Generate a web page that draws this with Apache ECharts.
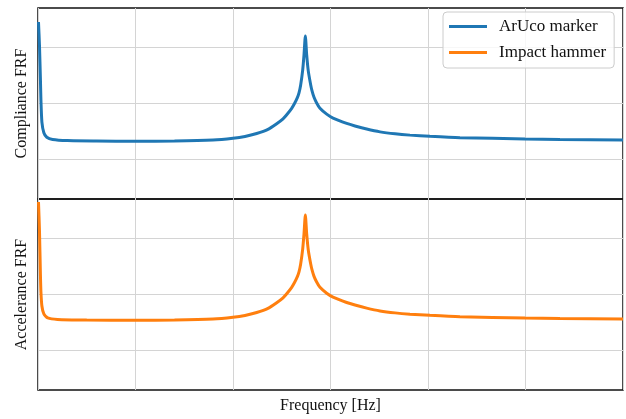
<!DOCTYPE html>
<html>
<head>
<meta charset="utf-8">
<script src="https://cdn.jsdelivr.net/npm/echarts@6/dist/echarts.min.js"></script>
<style>
html,body{margin:0;padding:0;background:#fff;}
#c{width:626px;height:419px;}
</style>
</head>
<body>
<div id="c"></div>
<script>
// Frequency [Hz] and log-magnitude values
const arucoFreq = [0.5, 1.5, 2.5, 3, 4, 6, 9, 15, 30, 60, 100, 140, 179.5, 200, 212.3, 224.3, 235.9, 244.8, 251.3, 255.1, 260.2, 263.1, 265.9, 267.7, 269.4, 271.5, 272.8, 274.2, 275.6, 277.2, 279.7, 281.0, 283.1, 285.8, 289.2, 296.1, 302.6, 316.6, 325.1, 337.1, 350.8, 366.2, 381.5, 402, 432.8, 499.5, 535.4, 600];
const arucoVals = [3.45, 3.04, 2.42, 2.06, 1.67, 1.48, 1.40, 1.36, 1.34, 1.333, 1.328, 1.333, 1.351, 1.382, 1.414, 1.466, 1.540, 1.640, 1.728, 1.800, 1.915, 2.000, 2.100, 2.190, 2.330, 2.600, 2.860, 3.200, 2.860, 2.580, 2.330, 2.230, 2.110, 2.010, 1.915, 1.810, 1.740, 1.645, 1.600, 1.545, 1.495, 1.460, 1.437, 1.416, 1.392, 1.369, 1.360, 1.351];
const hammerFreq = [0.5, 1.5, 2.5, 3, 4, 6, 10, 20, 50, 100, 140, 179.5, 200, 212.3, 224.3, 235.9, 244.8, 251.3, 255.1, 260.2, 263.1, 265.9, 267.7, 269.4, 271.5, 272.8, 274.2, 275.6, 277.2, 279.7, 281.0, 283.1, 285.8, 289.2, 296.1, 302.6, 316.6, 325.1, 337.1, 350.8, 366.2, 381.5, 402, 432.8, 499.5, 535.4, 600];
const hammerVals = [3.647, 3.148, 2.348, 2.045, 1.796, 1.654, 1.583, 1.556, 1.545, 1.540, 1.546, 1.564, 1.595, 1.627, 1.679, 1.753, 1.853, 1.941, 2.013, 2.128, 2.213, 2.313, 2.403, 2.543, 2.813, 3.073, 3.415, 3.073, 2.793, 2.543, 2.443, 2.323, 2.223, 2.128, 2.023, 1.953, 1.858, 1.813, 1.758, 1.708, 1.673, 1.650, 1.629, 1.605, 1.582, 1.573, 1.564];
const yGridValues = [1, 2, 3];
const seriesNames = ['ArUco marker', 'Impact hammer'];

const FONT = 'Liberation Serif';
const chart = echarts.init(document.getElementById('c'), null, {renderer: 'canvas'});
const zip = (a, b) => a.map((x, i) => [x, b[i]]);
const gridLine = {show: true, lineStyle: {color: '#d4d4d4', width: 1}};

function xAx(idx, withName) {
  return {
    type: 'value', gridIndex: idx, min: 0, max: 600, interval: 100,
    axisLine: {show: false}, axisTick: {show: false}, axisLabel: {show: false},
    splitLine: gridLine,
    name: withName ? 'Frequency [Hz]' : '', nameLocation: 'middle', nameGap: 8,
    nameTextStyle: {fontFamily: FONT, fontSize: 16, color: '#111'}
  };
}
function yAx(idx, name) {
  return {
    type: 'value', gridIndex: idx, min: 0.3, max: 3.7,
    axisLine: {show: false}, axisTick: {show: false, customValues: yGridValues},
    axisLabel: {show: false, customValues: yGridValues},
    splitLine: gridLine,
    name: name, nameLocation: 'middle', nameGap: 8,
    nameTextStyle: {fontFamily: FONT, fontSize: 16, color: '#111'}
  };
}

chart.setOption({
  animation: false,
  backgroundColor: '#fff',
  grid: [
    {left: 38, right: 3, top: 8, height: 191, show: true, borderColor: '#111', borderWidth: 1.5, backgroundColor: 'transparent'},
    {left: 38, right: 3, top: 199, height: 191, show: true, borderColor: '#111', borderWidth: 1.5, backgroundColor: 'transparent'}
  ],
  xAxis: [xAx(0, false), xAx(1, true)],
  yAxis: [yAx(0, 'Compliance FRF'), yAx(1, 'Accelerance FRF')],
  legend: {
    data: seriesNames,
    orient: 'vertical', left: 443, top: 12,
    icon: 'rect', itemWidth: 38, itemHeight: 3, itemGap: 9,
    padding: [6, 8, 7, 6],
    backgroundColor: 'rgba(255,255,255,0.8)',
    borderColor: '#cccccc', borderWidth: 1, borderRadius: 4,
    textStyle: {fontFamily: FONT, fontSize: 17, color: '#111', padding: [0, 0, 0, 7]}
  },
  series: [
    {name: seriesNames[0], type: 'line', xAxisIndex: 0, yAxisIndex: 0, data: zip(arucoFreq, arucoVals),
     smooth: 0.2,
     showSymbol: false, symbol: 'none', color: '#1f77b4', lineStyle: {width: 3, color: '#1f77b4'}},
    {name: seriesNames[1], type: 'line', xAxisIndex: 1, yAxisIndex: 1, data: zip(hammerFreq, hammerVals),
     smooth: 0.2,
     showSymbol: false, symbol: 'none', color: '#ff7f0e', lineStyle: {width: 3, color: '#ff7f0e'}}
  ]
});
</script>
</body>
</html>
